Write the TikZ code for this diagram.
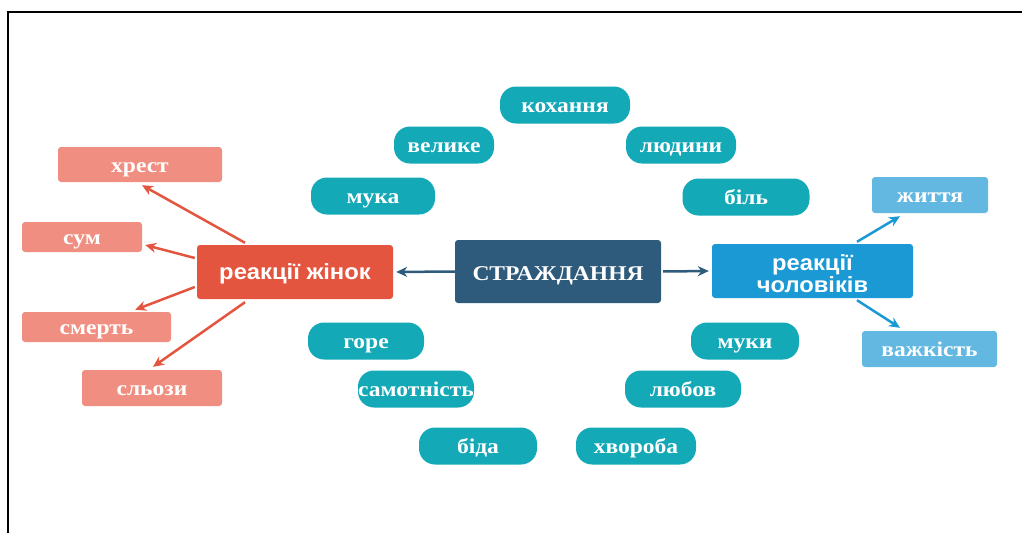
\documentclass[tikz,border=0pt]{standalone}
\usepackage{fontspec}
\setmainfont{Liberation Serif}[FakeStretch=1.12]
\setsansfont{Liberation Sans}[FakeStretch=1.08]
\usetikzlibrary{calc,arrows.meta}
\definecolor{salmon}{HTML}{F08F81}
\definecolor{redbox}{HTML}{E4553F}
\definecolor{darkbox}{HTML}{2E5B7B}
\definecolor{bluebox}{HTML}{1A99D5}
\definecolor{lightbox}{HTML}{62B8E0}
\definecolor{tealbox}{HTML}{13A9B6}
\tikzset{
  box/.style={rectangle, rounded corners=3pt, inner sep=0pt, text=white,
    text height=15pt, text depth=0pt,
    font=\fontsize{21}{24}\selectfont\bfseries},
  pinkbox/.style={box, fill=salmon},
  lbox/.style={box, fill=lightbox},
  pill/.style={rectangle, rounded corners=16pt, fill=tealbox, inner sep=0pt,
    text=white, minimum height=37pt, text height=15pt, text depth=0pt,
    font=\fontsize{21}{24}\selectfont\bfseries},
  redarr/.style={draw=redbox, line width=2.5pt, -{Stealth[length=11pt,width=10pt]}},
  bluearr/.style={draw=bluebox, line width=2.5pt, -{Stealth[length=11pt,width=10pt]}},
  darkarr/.style={draw=darkbox, line width=2.5pt, -{Stealth[length=11pt,width=10pt]}}
}
\begin{document}
\begin{tikzpicture}[x=1pt,y=-1pt]
\useasboundingbox (0,0) rectangle (1022,533);
\draw[line width=2pt] (8,533) -- (8,12) -- (1022,12);

% central
\node[box, fill=darkbox, minimum width=206pt, minimum height=63pt,
  text height=18pt, text depth=0pt] (s) at (558,271.5) {СТРАЖДАННЯ};
\node[box, fill=redbox, minimum width=196pt, minimum height=54pt,
  text height=15.5pt, text depth=0pt,
  font=\fontsize{22}{24}\selectfont\sffamily\bfseries] (w) at (295,272) {реакції жінок};
\node[box, fill=bluebox, minimum width=201pt, minimum height=54pt,
  text height=21pt, text depth=0pt,
  font=\fontsize{22}{20}\selectfont\sffamily\bfseries] (m) at (812.5,271)
  {\begin{tabular}{@{}c@{}}реакції\\чоловіків\end{tabular}};

% women reactions
\node[pinkbox, minimum width=164pt, minimum height=35pt] (xr) at (140,164.5) {хрест};
\node[pinkbox, minimum width=120pt, minimum height=30pt] (sum) at (82,237) {сум};
\node[pinkbox, minimum width=149pt, minimum height=30pt] (sm) at (96.5,327) {смерть};
\node[pinkbox, minimum width=140pt, minimum height=36pt] (sl) at (152,388) {сльози};

% men reactions
\node[lbox, minimum width=116pt, minimum height=36pt] (zh) at (930,195) {життя};
\node[lbox, minimum width=135pt, minimum height=36pt] (vz) at (929.5,349) {важкість};

% pills
\node[pill, minimum width=130pt] (p1) at (565,105) {кохання};
\node[pill, minimum width=100pt] (p2) at (444,145) {велике};
\node[pill, minimum width=110pt] (p3) at (681,145) {людини};
\node[pill, minimum width=124pt] (p4) at (373,196) {мука};
\node[pill, minimum width=127pt] (p5) at (746,197) {біль};
\node[pill, minimum width=116pt] (p6) at (366,341) {горе};
\node[pill, minimum width=116pt] (p7) at (416,389) {самотність};
\node[pill, minimum width=118pt] (p8) at (478,446) {біда};
\node[pill, minimum width=108pt] (p9) at (745,341) {муки};
\node[pill, minimum width=116pt] (p10) at (683,389) {любов};
\node[pill, minimum width=120pt] (p11) at (636,446) {хвороба};

% arrows
\draw[darkarr, shorten >=3pt] (s.west) -- (w.east);
\draw[darkarr, shorten <=2pt, shorten >=3pt] (s.east) -- (m.west);
\draw[redarr] ($(w.north)+(-50,-2)$) -- ($(xr.south)+(2,3)$);
\draw[redarr] ($(w.west)+(-2,-14)$) -- ($(sum.east)+(3,8)$);
\draw[redarr] ($(w.west)+(-2,15)$) -- ($(sm.north east)+(-36,-2)$);
\draw[redarr] ($(w.south)+(-50,3)$) -- ($(sl.north)+(1,-3)$);
\draw[bluearr] ($(m.north)+(44.5,-2)$) -- ($(zh.south)+(-30,3)$);
\draw[bluearr] ($(m.south)+(44.5,2)$) -- ($(vz.north)+(-29.5,-3)$);
\end{tikzpicture}
\end{document}
